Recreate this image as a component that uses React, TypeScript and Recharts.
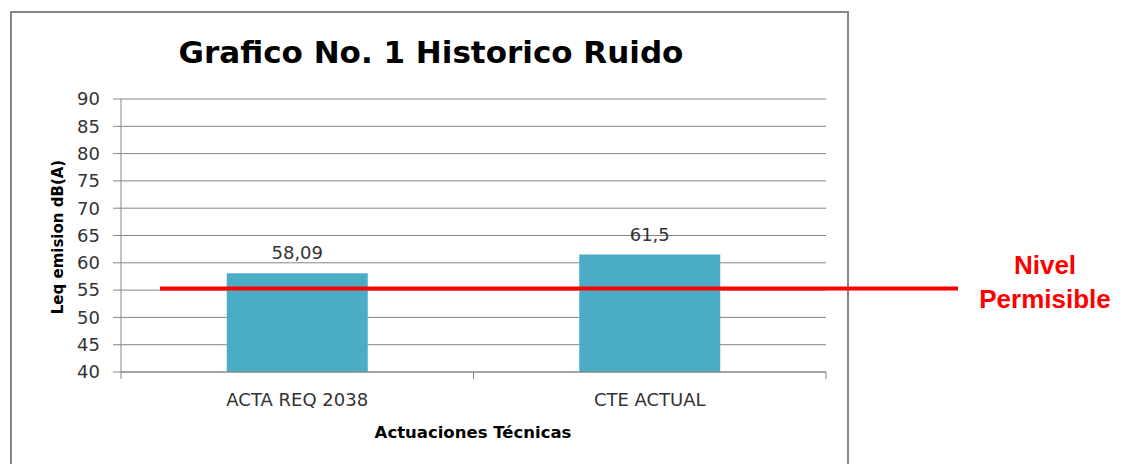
import React from 'react';
import { BarChart, Bar, XAxis, YAxis, CartesianGrid, LabelList, ReferenceLine } from 'recharts';

const categories = ['ACTA REQ 2038', 'CTE ACTUAL'];
const values = [58.09, 61.5];
const valueLabels = ['58,09', '61,5'];
const yTicks = [40, 45, 50, 55, 60, 65, 70, 75, 80, 85, 90];
const permissibleLevel = 55.3;
const title = 'Grafico No. 1 Historico Ruido';
const yTitle = 'Leq emision dB(A)';
const xTitle = 'Actuaciones Técnicas';
const limitLines = ['Nivel', 'Permisible'];

const data = categories.map((c, i) => ({ name: c, value: values[i], label: valueLabels[i] }));

const GRAY = '#868686';
const FONT = '"DejaVu Sans", sans-serif';

const XTick = (props: any) => {
  const { x, y, payload, index, visibleTicksCount } = props;
  const half = payload && payload.offset ? payload.offset : 0;
  const last = index === (visibleTicksCount ?? categories.length) - 1;
  return (
    <g>
      <line x1={x - half} y1={y} x2={x - half} y2={y + 7} stroke={GRAY} strokeWidth={1} />
      {last && <line x1={x + half} y1={y} x2={x + half} y2={y + 7} stroke={GRAY} strokeWidth={1} />}
      <text x={x} y={y + 34} textAnchor="middle" fontFamily={FONT} fontSize={18} fill="#333">
        {payload.value}
      </text>
    </g>
  );
};

const LimitShape = (props: any) => {
  const { x1, x2, y1 } = props;
  return <line x1={x1 + 39} x2={x2 + 132} y1={y1} y2={y1} stroke="#FF0000" strokeWidth={4} />;
};

export default function App() {
  return (
    <div style={{ position: 'absolute', left: 0, top: 0, width: 1126, height: 464, overflow: 'hidden', background: '#fff' }}>
      <div
        style={{
          position: 'absolute',
          left: 10,
          top: 11,
          width: 839,
          height: 480,
          border: `2px solid ${GRAY}`,
          boxSizing: 'border-box',
        }}
      />
      <div style={{ position: 'absolute', left: 0, top: 0 }}>
        <BarChart
          width={1126}
          height={464}
          data={data}
          margin={{ top: 99, right: 300, bottom: 62, left: 61 }}
          barCategoryGap="30%"
        >
          <CartesianGrid vertical={false} stroke={GRAY} strokeWidth={1} />
          <XAxis
            dataKey="name"
            height={30}
            axisLine={{ stroke: GRAY }}
            tickLine={false}
            tickSize={0}
            tickMargin={0}
            tick={<XTick />}
            interval={0}
          />
          <YAxis
            width={60}
            domain={[40, 90]}
            ticks={yTicks}
            interval={0}
            axisLine={{ stroke: GRAY }}
            tickLine={{ stroke: GRAY }}
            tickSize={8}
            tickMargin={13}
            tick={{ fontFamily: FONT, fontSize: 18, fill: '#333' }}
          />
          <Bar dataKey="value" fill="#4BACC6" isAnimationActive={false}>
            <LabelList dataKey="label" position="top" offset={14} fontFamily={FONT} fontSize={18} fill="#333" />
          </Bar>
          <ReferenceLine y={permissibleLevel} shape={<LimitShape />} ifOverflow="visible" />
        </BarChart>
      </div>
      <svg width={1126} height={464} style={{ position: 'absolute', left: 0, top: 0, pointerEvents: 'none' }}>
        <text x={431} y={63} textAnchor="middle" fontFamily={FONT} fontWeight="bold" fontSize={31} fill="#000">
          {title}
        </text>
        <text
          x={0}
          y={0}
          transform="translate(63 237) rotate(-90)"
          textAnchor="middle"
          fontFamily={FONT}
          fontWeight="bold"
          fontSize={15}
          fill="#000"
        >
          {yTitle}
        </text>
        <text x={473} y={438} textAnchor="middle" fontFamily={FONT} fontWeight="bold" fontSize={16.5} fill="#000">
          {xTitle}
        </text>
        <text x={1045} y={274} textAnchor="middle" fontFamily='"Liberation Sans", Arial, sans-serif' fontWeight="bold" fontSize={26} fill="#FF0000">
          {limitLines[0]}
        </text>
        <text x={1045} y={308} textAnchor="middle" fontFamily='"Liberation Sans", Arial, sans-serif' fontWeight="bold" fontSize={26} fill="#FF0000">
          {limitLines[1]}
        </text>
      </svg>
    </div>
  );
}
